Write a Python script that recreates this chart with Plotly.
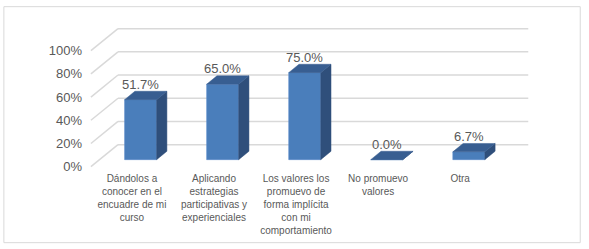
import plotly.graph_objects as go

# ---------------- data ----------------
categories = [
    "Dándolos a<br>conocer en el<br>encuadre de mi<br>curso",
    "Aplicando<br>estrategias<br>participativas y<br>experienciales",
    "Los valores los<br>promuevo de<br>forma implícita<br>con mi<br>comportamiento",
    "No promuevo<br>valores",
    "Otra",
]
values = [51.7, 65.0, 75.0, 0.0, 6.7]
y_ticks = [0, 20, 40, 60, 80, 100]
y_tick_labels = ["0%", "20%", "40%", "60%", "80%", "100%"]

# ---------------- 3D-look styling ----------------
DX, DY = 0.33, 19.0      # floor depth vector (front -> back) in data units
D0, D1 = 0.32, 0.70      # bar depth span (fraction of floor depth)
BW = 0.39                # bar width (category units)
FRONT = "#4a7ebb"
SIDE = "#2f4f7b"
TOP = "#385e91"
GRID = "#d9d9d9"
TXT = "#595959"
FONT = "Liberation Sans, Arial, sans-serif"

# ---------------- pixel mapping ----------------
W_PX, H_PX = 589, 249
PX_X, PX_Y = 82.0, 1.16
X0_PX, Y0_PX = 91.0, 167.0          # pixel of front-left floor corner
xr = [-0.56, 4.9]
yr = [-2, 123]
left_px = X0_PX + (xr[0] + 0.5) * PX_X
right_px = X0_PX + (xr[1] + 0.5) * PX_X
top_px = Y0_PX - yr[1] * PX_Y
bot_px = Y0_PX - yr[0] * PX_Y


def paper_x(px):
    return (px - left_px) / (right_px - left_px)


def paper_y(py):
    return (bot_px - py) / (bot_px - top_px)


n = len(values)
fig = go.Figure()

# wall gridlines (left side wall diagonal + back wall horizontal), drawn below the bars
for t in y_ticks:
    fig.add_shape(type="line", xref="x", yref="y", x0=-0.5, y0=t, x1=-0.5 + DX, y1=t + DY,
                  line=dict(color=GRID, width=1.5), layer="below")
    fig.add_shape(type="line", xref="x", yref="y", x0=-0.5 + DX, y0=t + DY,
                  x1=n - 0.5 + DX, y1=t + DY, line=dict(color=GRID, width=1.5), layer="below")

# front faces (bars)
xs = [i + D0 * DX for i in range(n)]
fig.add_trace(go.Bar(x=xs, y=values, base=[D0 * DY] * n, width=BW,
                     marker=dict(color=FRONT, line=dict(width=0.6, color="#5b8ccb")),
                     hoverinfo="skip"))

# side and top faces
dd = D1 - D0
sx, sy, tx, ty = [], [], [], []
for i, v in enumerate(values):
    xl = xs[i] - BW / 2
    xR = xs[i] + BW / 2
    b0 = D0 * DY
    sx += [xR, xR, xR + dd * DX, xR + dd * DX, xR, None]
    sy += [b0, b0 + v, b0 + v + dd * DY, b0 + dd * DY, b0, None]
    tx += [xl, xR, xR + dd * DX, xl + dd * DX, xl, None]
    ty += [b0 + v, b0 + v, b0 + v + dd * DY, b0 + v + dd * DY, b0 + v, None]
fig.add_trace(go.Scatter(x=sx, y=sy, mode="lines", fill="toself", fillcolor=SIDE,
                         line=dict(width=0.5, color=SIDE), hoverinfo="skip", cliponaxis=False))
fig.add_trace(go.Scatter(x=tx, y=ty, mode="lines", fill="toself", fillcolor=TOP,
                         line=dict(width=0.5, color=TOP), hoverinfo="skip", cliponaxis=False))

# data labels
for i, v in enumerate(values):
    fig.add_annotation(x=xs[i], y=v + D1 * DY, text=f"{v:.1f}%", showarrow=False,
                       yanchor="middle", yshift=7,
                       font=dict(family=FONT, size=13, color=TXT))

# outer frame
fig.add_shape(type="rect", xref="paper", yref="paper",
              x0=paper_x(4), x1=paper_x(580), y0=paper_y(243), y1=paper_y(7),
              line=dict(color="#d9d9d9", width=1), fillcolor="rgba(0,0,0,0)", layer="below")

fig.update_layout(
    width=W_PX, height=H_PX,
    margin=dict(l=left_px, r=W_PX - right_px, t=top_px, b=H_PX - bot_px, pad=0),
    paper_bgcolor="white", plot_bgcolor="white",
    showlegend=False, hovermode=False,
    font=dict(family=FONT, color=TXT),
    xaxis=dict(range=xr, tickmode="array", tickvals=list(range(n)), ticktext=categories,
               showgrid=False, zeroline=False, showline=False, ticks="", automargin=False,
               tickangle=0, tickfont=dict(size=10, color=TXT), ticklabelstandoff=2),
    yaxis=dict(range=yr, tickmode="array", tickvals=y_ticks, ticktext=y_tick_labels,
               showgrid=False, zeroline=False, showline=False, ticks="", automargin=False,
               tickfont=dict(size=13, color=TXT), ticklabelstandoff=3),
)

fig.write_html("out.html", config={"displayModeBar": False, "staticPlot": True},
               post_script="document.body.style.margin='0';document.body.style.overflow='hidden';")
